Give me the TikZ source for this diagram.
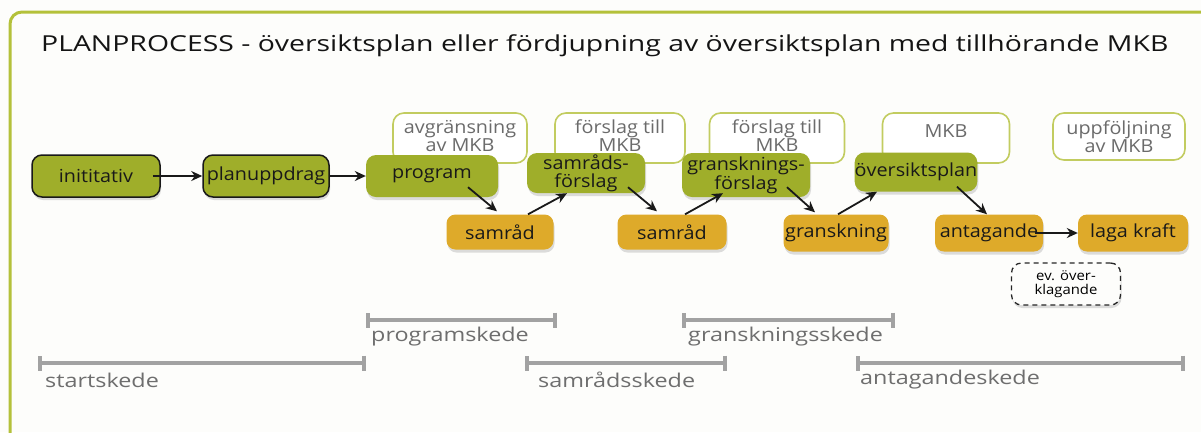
\documentclass[tikz,border=0pt]{standalone}
\usepackage{fontspec}
\setmainfont{Open Sans}
\newfontfamily\boxfont[FakeStretch=1.1]{Open Sans}
\newfontfamily\titlefont[FakeStretch=1.29]{Open Sans}
\newfontfamily\phasefont[FakeStretch=1.23]{Open Sans}
\usetikzlibrary{arrows.meta,shadows,calc}
\definecolor{olive}{HTML}{9FAE2A}
\definecolor{gold}{HTML}{DEAA2A}
\definecolor{wbord}{HTML}{C2CC60}
\definecolor{frame}{HTML}{B4C13A}
\definecolor{wtext}{HTML}{6B6B6B}
\definecolor{barc}{HTML}{A2A2A2}
\definecolor{bartext}{HTML}{6E6E6E}
\definecolor{bg}{HTML}{FDFDFB}
\tikzset{
  x=1pt,y=-1pt,
  sh/.style={drop shadow={shadow xshift=1pt,shadow yshift=-3pt,opacity=0.22,fill=black!60}},
  boxtext/.style={font=\boxfont\fontsize{18}{18}\selectfont},
  greenbox/.style={fill=olive,rounded corners=10pt,inner sep=0pt,align=center,sh,boxtext,text=black!90},
  goldbox/.style={fill=gold,rounded corners=9pt,inner sep=0pt,align=center,sh,boxtext,text=black!90},
  whitebox/.style={fill=white,draw=wbord,line width=1.6pt,rounded corners=11pt,inner sep=0pt},
  whitetext/.style={font=\boxfont\fontsize{18}{18}\selectfont,text=wtext,align=center,inner sep=0pt},
  dashbox/.style={fill=bg,draw=black!85,dashed,dash pattern=on 5pt off 4pt,line width=1.3pt,
    rounded corners=10pt,inner sep=0pt,align=center,sh,font=\boxfont\fontsize{13.5}{14}\selectfont},
  arr/.style={draw=black!90,line width=1.8pt,-{Stealth[length=11pt,width=10pt]}},
  phase/.style={draw=barc,line width=4pt,{Bar[width=15pt]}-{Bar[width=15pt]}},
  phaselabel/.style={anchor=west,text=bartext,font=\phasefont\fontsize{19}{19}\selectfont,inner sep=0pt},
}
\begin{document}
\begin{tikzpicture}
\useasboundingbox (0,0) rectangle (1201,432);
\fill[bg] (0,0) rectangle (1201,432);
\draw[frame,line width=3pt,rounded corners=12pt] (1215,12) -- (10,12) -- (10,445);

\node[anchor=west,inner sep=0pt,font=\titlefont\fontsize{22}{22}\selectfont,text=black!92] (title) at (41,46)
  {PLANPROCESS - översiktsplan eller fördjupning av översiktsplan med tillhörande MKB};

% white MKB boxes (behind)
\node[whitebox,minimum width=134pt,minimum height=50pt] (w1) at (460,138) {};
\node[whitetext] (w1t) at (460,136) {avgränsning\\av MKB};
\node[whitebox,minimum width=130pt,minimum height=50pt] (w2) at (620,138) {};
\node[whitetext] (w2t) at (620,136) {förslag till\\MKB};
\node[whitebox,minimum width=135pt,minimum height=50pt] (w3) at (777,138) {};
\node[whitetext] (w3t) at (777,136) {förslag till\\MKB};
\node[whitebox,minimum width=127pt,minimum height=50pt] (w4) at (946,138) {};
\node[whitetext] (w4t) at (946,131) {MKB};
\node[whitebox,minimum width=132pt,minimum height=47pt] (w5) at (1119,136.5) {};
\node[whitetext] (w5t) at (1119,137) {uppföljning\\av MKB};

% green boxes
\node[greenbox,draw=black!90,line width=1.5pt,minimum width=128pt,minimum height=42pt] (init) at (96,176) {inititativ};
\node[greenbox,draw=black!90,line width=1.5pt,minimum width=126pt,minimum height=42pt] (plan) at (266,176) {planuppdrag};
\node[greenbox,minimum width=132pt,minimum height=42pt] (prog) at (432,176) {program};
\node[greenbox,minimum width=118pt,minimum height=40pt] (sf) at (586,173) {samråds-\\förslag};
\node[greenbox,minimum width=128pt,minimum height=44pt] (gf) at (746,175) {gransknings-\\förslag};
\node[greenbox,minimum width=122pt,minimum height=39pt] (op) at (916,172) {översiktsplan};

% gold boxes
\node[goldbox,minimum width=107pt,minimum height=35pt] (s1) at (500,232) {samråd};
\node[goldbox,minimum width=109pt,minimum height=35pt] (s2) at (672,232) {samråd};
\node[goldbox,minimum width=105pt,minimum height=37pt] (gr) at (836,233) {granskning};
\node[goldbox,minimum width=108pt,minimum height=37pt] (ant) at (989,233) {antagande};
\node[goldbox,minimum width=110pt,minimum height=37pt] (lk) at (1133,233) {laga kraft};

\node[dashbox,minimum width=109pt,minimum height=42pt] (ev) at (1066,284) {ev. över-\\klagande};

% arrows
\draw[arr] ([xshift=-8pt]init.east) -- (plan.west);
\draw[arr] (plan.east) -- (prog.west);
\draw[arr] ([xshift=36pt,yshift=10pt]prog.south) -- ([xshift=-3pt,yshift=3pt]s1.north);
\draw[arr] ([xshift=28pt]s1.north) -- ([xshift=-19pt]sf.south);
\draw[arr] ([xshift=42pt,yshift=6pt]sf.south) -- ([xshift=-15pt,yshift=3pt]s2.north);
\draw[arr] ([xshift=13pt]s2.north) -- ([xshift=-23pt,yshift=4pt]gf.south);
\draw[arr] ([xshift=41pt,yshift=10pt]gf.south) -- ([xshift=-21pt,yshift=2pt]gr.north);
\draw[arr] ([xshift=2pt]gr.north) -- ([xshift=-39pt]op.south);
\draw[arr] ([xshift=41pt,yshift=5pt]op.south) -- ([xshift=-2pt]ant.north);
\draw[arr] ([xshift=-8pt]ant.east) -- (lk.west);

% phases
\coordinate (p1a) at (366,320); \coordinate (p1b) at (557,320);
\coordinate (p2a) at (38,363);  \coordinate (p2b) at (366,363);
\coordinate (p3a) at (525,363); \coordinate (p3b) at (727,363);
\coordinate (p4a) at (682,320); \coordinate (p4b) at (895,320);
\coordinate (p5a) at (856,363); \coordinate (p5b) at (1185,363);
\draw[phase] (p1a) -- (p1b);
\draw[phase] (p2a) -- (p2b);
\draw[phase] (p3a) -- (p3b);
\draw[phase] (p4a) -- (p4b);
\draw[phase] (p5a) -- (p5b);
\node[phaselabel] (l1) at (371,337) {programskede};
\node[phaselabel] (l2) at (45,380) {startskede};
\node[phaselabel] (l3) at (538,380) {samrådsskede};
\node[phaselabel] (l4) at (688,337) {granskningsskede};
\node[phaselabel] (l5) at (860,380) {antagandeskede};
\end{tikzpicture}
\end{document}
